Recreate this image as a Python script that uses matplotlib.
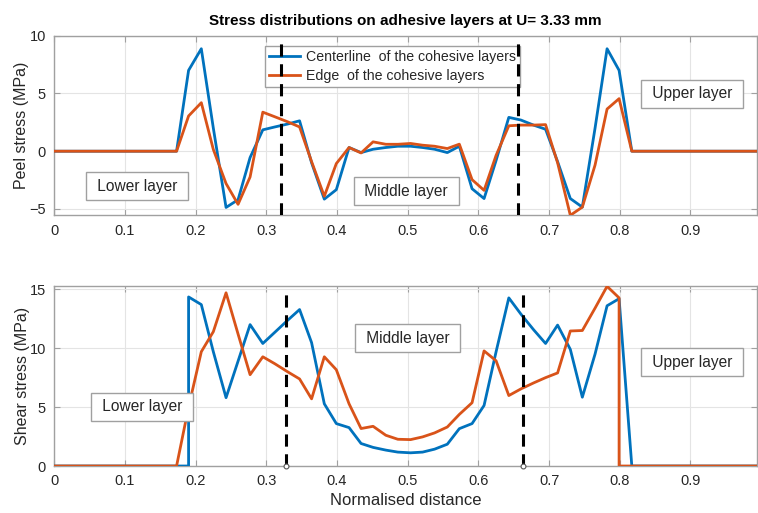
import matplotlib
matplotlib.use("Agg")
import matplotlib.pyplot as plt

plt.rcParams["font.family"] = ["Liberation Sans", "DejaVu Sans"]

# Node positions along the bond line (normalised distance)
x_nodes = [0.173, 0.190, 0.208, 0.225, 0.243, 0.260, 0.277, 0.295, 0.312, 0.330,
           0.347, 0.364, 0.382, 0.399, 0.417, 0.434, 0.451, 0.469, 0.486, 0.504,
           0.521, 0.538, 0.556, 0.573, 0.591, 0.608, 0.625, 0.643, 0.660, 0.678,
           0.695, 0.712, 0.730, 0.747, 0.765, 0.782, 0.799, 0.817]

# Peel stress (MPa)
peel_center = [0, 7.0, 8.87, 2.0, -4.87, -4.2, -0.55, 1.85, 2.1, 2.35,
               2.63, -1.0, -4.15, -3.33, 0.32, -0.12, 0.17, 0.32, 0.43, 0.43,
               0.32, 0.17, -0.12, 0.43, -3.25, -4.1, -0.8, 2.93, 2.7, 2.26,
               1.9, -0.9, -4.1, -4.84, 2.0, 8.87, 7.0, 0]
peel_edge = [0, 3.05, 4.2, 0.15, -2.8, -4.6, -2.23, 3.38, 2.98, 2.55,
             2.1, -0.9, -3.9, -1.07, 0.32, -0.15, 0.81, 0.6, 0.6, 0.67,
             0.52, 0.43, 0.23, 0.61, -2.46, -3.39, -0.36, 2.2, 2.26, 2.26,
             2.3, -1.0, -5.55, -4.84, -1.2, 3.65, 4.55, 0]

# Shear stress (MPa)
shear_center = [0, 14.35, 13.7, 9.7, 5.8, 8.9, 12.0, 10.4, 11.35, 12.36,
                13.28, 10.47, 5.28, 3.6, 3.26, 1.91, 1.58, 1.35, 1.18, 1.12,
                1.18, 1.43, 1.85, 3.17, 3.6, 5.14, 9.7, 14.27, 12.9, 11.57,
                10.4, 11.96, 9.9, 5.84, 9.5, 13.6, 14.2, 0]
shear_edge = [0, 5.0, 9.7, 11.4, 14.7, 11.2, 7.75, 9.27, 8.68, 8.0,
              7.39, 5.7, 9.27, 8.17, 5.28, 3.18, 3.37, 2.61, 2.27, 2.24,
              2.47, 2.81, 3.31, 4.38, 5.37, 9.77, 8.93, 5.98, 6.54, 7.05,
              7.5, 7.9, 11.46, 11.5, 13.4, 15.25, 14.27, 0]

# layer interfaces (dashed lines)
peel_interfaces = [0.321, 0.656]
shear_interfaces = [0.328, 0.663]

BLUE = "#0072BD"
ORANGE = "#D95319"
GRAY = "#a0a0a0"
TXT = "#262626"


def extend(xs, ys):
    # flat zero part outside the bonded region
    return [0.0] + list(xs) + [1.0], [0.0] + list(ys) + [0.0]


def style_axes(ax, yticks, ylim):
    ax.set_xlim(0, 0.994)
    ax.set_ylim(*ylim)
    ax.set_xticks([0, 0.1, 0.2, 0.3, 0.4, 0.5, 0.6, 0.7, 0.8, 0.9])
    ax.set_xticklabels(["0", "0.1", "0.2", "0.3", "0.4", "0.5", "0.6", "0.7", "0.8", "0.9"])
    ax.set_yticks(yticks)
    ax.grid(True, color="#e4e4e4", lw=0.8)
    ax.set_axisbelow(True)
    for s in ax.spines.values():
        s.set_color(GRAY)
        s.set_linewidth(1.0)
    ax.tick_params(direction="in", top=True, right=True, length=4,
                   color=GRAY, labelcolor=TXT, labelsize=10.5, pad=6)


def layer_box(ax, x, y, s):
    ax.text(x, y, " " + s + " ", ha="center", va="center", fontsize=11.2, color=TXT,
            bbox=dict(boxstyle="square,pad=0.42", fc="white", ec=GRAY, lw=1.0),
            zorder=4)


fig = plt.figure(figsize=(7.58, 5.13), dpi=100)
ax1 = fig.add_axes([0.0716, 0.5803, 0.927, 0.3501])
ax2 = fig.add_axes([0.0716, 0.0916, 0.927, 0.3514])

# Peel stress
xc, yc = extend(x_nodes, peel_center)
xe, ye = extend(x_nodes, peel_edge)
ax1.plot(xc, yc, color=BLUE, lw=2.0, label="Centerline  of the cohesive layers", zorder=3)
ax1.plot(xe, ye, color=ORANGE, lw=2.0, label="Edge  of the cohesive layers", zorder=3)
for xi in peel_interfaces:
    ax1.plot([xi, xi], [-5.55, 9.7], color="black", lw=2.2, dashes=(4, 2.5), zorder=6)
style_axes(ax1, [-5, 0, 5, 10], (-5.55, 10))
ax1.set_ylabel("Peel stress (MPa)", fontsize=11.5, color=TXT, labelpad=0)
leg = ax1.legend(loc="upper left", bbox_to_anchor=(0.30, 0.945), fontsize=10.2,
                 frameon=True, fancybox=False, edgecolor=GRAY, framealpha=1,
                 handlelength=2.2, borderpad=0.3, labelspacing=0.35, handletextpad=0.4,
                 borderaxespad=0)
leg.get_frame().set_linewidth(1.0)
for t in leg.get_texts():
    t.set_color(TXT)
layer_box(ax1, 0.117, -3.03, "Lower layer")
layer_box(ax1, 0.498, -3.46, "Middle layer")
layer_box(ax1, 0.902, 4.98, "Upper layer")
ax1.set_title("Stress distributions on adhesive layers at U= 3.33 mm",
              fontsize=11, fontweight="bold", color="black", pad=8)

# Shear stress
xs_c = [0.0] + x_nodes[:2] + x_nodes[1:] + [1.0]
ys_c = [0.0] + shear_center[:1] + [0.0] + shear_center[1:] + [0.0]
xs_e = [0.0] + x_nodes[:37] + x_nodes[36:] + [1.0]
ys_e = [0.0] + shear_edge[:37] + [0.0] + shear_edge[37:] + [0.0]
ax2.plot(xs_c, ys_c, color=BLUE, lw=2.0, zorder=3)
ax2.plot(xs_e, ys_e, color=ORANGE, lw=2.0, zorder=3)
for xi in shear_interfaces:
    ax2.plot([xi, xi], [0, 15], color="black", lw=2.2, dashes=(4, 2.5), zorder=6)
    ax2.plot([xi], [0], marker="o", ms=3.5, mfc="white", mec="#555555", mew=0.8,
             zorder=7, clip_on=False)
style_axes(ax2, [0, 5, 10, 15], (0, 15.3))
ax2.set_ylabel("Shear stress (MPa)", fontsize=11.5, color=TXT, labelpad=0)
ax2.set_xlabel("Normalised distance", fontsize=12, color=TXT, labelpad=3)
layer_box(ax2, 0.124, 5.01, "Lower layer")
layer_box(ax2, 0.50, 10.83, "Middle layer")
layer_box(ax2, 0.902, 8.8, "Upper layer")

fig.savefig("out.png", dpi=100)
